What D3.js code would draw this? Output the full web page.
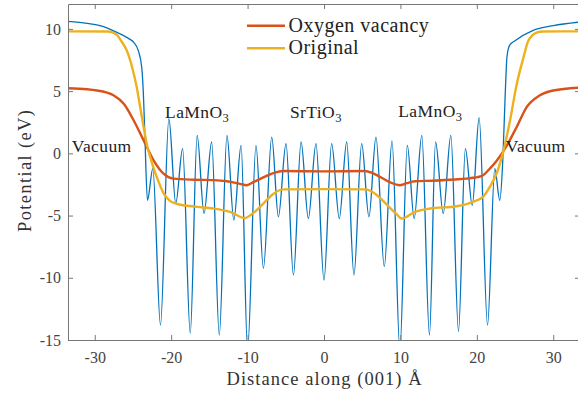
<!DOCTYPE html>
<html>
<head>
<meta charset="utf-8">
<script src="https://cdn.jsdelivr.net/npm/d3@7"></script>
<style>
  body { margin: 0; background: #fff; }
  svg { display: block; }
  svg text { font-family: "Liberation Serif", "DejaVu Serif", serif !important; }
</style>
</head>
<body>
<svg id="chart" width="578" height="394"></svg>
<script>
// ---------------- data ----------------
const xTicks = [-30, -20, -10, 0, 10, 20, 30];
const yTicks = [-15, -10, -5, 0, 5, 10];

// planar-averaged potential (blue)
const planarX = [-33.5, -31, -29.3, -27.1, -25.5, -24.9, -24.3, -23.85, -23.6, -23.45, -23.1, -22.4, -21.4, -20.3, -19.4, -18.5, -17.5, -16.6, -15.7, -14.7, -13.7, -12.7, -11.8, -10.85, -10.0, -8.9, -7.93, -6.84, -5.97, -4.97, -4.0, -3.0, -2.05, -1.05, 0, 1.0, 2.0, 2.97, 3.92, 4.93, 5.88, 6.8, 7.89, 8.9, 9.93, 10.9, 11.8, 12.8, 13.8, 14.6, 15.6, 16.6, 17.6, 18.5, 19.4, 20.3, 21.4, 22.35, 23.0, 23.4, 23.7, 23.95, 24.3, 25.0, 27.3, 30, 33.5];
const planarY = [10.6, 10.45, 10.26, 9.72, 9.2, 8.92, 8.25, 6.9, 4.25, 1.6, -3.77, -1.23, -13.8, 2.78, -4.03, 0.38, -14.45, 1.44, -4.83, 0.91, -14.6, 1.44, -5.37, 0.64, -15.8, 0.64, -9.24, 1.31, -5.1, 0.78, -9.78, 0.91, -5.24, 0.78, -10.18, 0.78, -5.24, 0.91, -9.78, 0.78, -5.1, 1.31, -9.1, 1.0, -15.8, 0.64, -5.24, 1.44, -14.6, 0.91, -4.83, 1.44, -14.3, 0.38, -4.17, 2.86, -13.8, -1.23, -3.77, -0.5, 4.5, 7.8, 8.7, 9.05, 9.86, 10.26, 10.55];

// macroscopic average: Oxygen vacancy (red)
const vacancyX = [-33.5, -31, -29.7, -28.5, -27.5, -26.2, -24.9, -23.6, -22.3, -21.0, -19.7, -17, -14.5, -12.7, -11, -10.1, -9.2, -5.3, 0, 5.3, 9.9, 10.8, 11.9, 14.3, 17, 18.65, 20.6, 21.7, 22.6, 23.9, 25.2, 26.5, 28.2, 30, 33.5];
const vacancyY = [5.23, 5.15, 5.05, 4.9, 4.65, 3.98, 2.64, 1.04, -0.56, -1.63, -2.03, -2.12, -2.15, -2.24, -2.45, -2.56, -2.3, -1.42, -1.45, -1.42, -2.56, -2.4, -2.24, -2.2, -2.1, -2.03, -1.84, -1.23, -0.6, 0.6, 2.1, 3.7, 4.65, 5.05, 5.28];

// macroscopic average: Original (yellow)
const originalX = [-33.5, -28.3, -27.6, -27.0, -26.5, -25.8, -25.1, -24.5, -24.05, -23.6, -23.2, -22.5, -21.7, -21.0, -20.2, -19.3, -16.6, -14.5, -12.3, -10.3, -9.6, -5.3, 0, 5.3, 9.6, 10.15, 11.9, 13.9, 17.35, 19.5, 20.8, 21.7, 22.6, 23.4, 24.3, 25.2, 26.1, 26.7, 27.3, 27.9, 28.6, 33.5];
const originalY = [9.8, 9.79, 9.7, 9.45, 9.0, 8.25, 6.9, 5.3, 3.7, 2.1, 0.78, -0.8, -2.2, -3.2, -3.8, -4.05, -4.3, -4.43, -4.7, -5.2, -4.95, -2.9, -2.88, -2.9, -4.95, -5.24, -4.7, -4.43, -4.25, -3.9, -3.5, -2.7, -1.6, 0, 2.5, 5.5, 7.7, 9.0, 9.5, 9.72, 9.79, 9.8];

const legendLabels = ["Oxygen vacancy", "Original"];
const regionNames = ["Vacuum", "LaMnO", "SrTiO", "LaMnO", "Vacuum"];
const regionSubs = ["", "3", "3", "3", ""];
const regionX = [-33.0, -20.8, -4.45, 9.72, 23.8];
const regionY = [0.1, 2.8, 2.8, 2.9, 0.1];
const xLabel = "Distance along (001) Å";
const yLabel = "Potential (eV)";

// ---------------- layout ----------------
const FONT = '"Liberation Serif", "DejaVu Serif", serif';
const mLeft = 68, mRight = 580, mTop = 4, mBottom = 340;
const colors = { planar: "#0072BD", vacancy: "#D95319", original: "#EDB120" };

const svg = d3.select("#chart");
const x = d3.scaleLinear().domain([-33.5, 33.5]).range([mLeft, mRight]);
const y = d3.scaleLinear().domain([-15, 12]).range([mBottom, mTop]);

svg.append("defs").append("clipPath").attr("id", "clip")
  .append("rect").attr("x", mLeft).attr("y", mTop)
  .attr("width", mRight - mLeft).attr("height", mBottom - mTop);

const plot = svg.append("g").attr("clip-path", "url(#clip)");
const line = d3.line().x(d => x(d[0])).y(d => y(d[1])).curve(d3.curveMonotoneX);

const planar = planarX.map((v, i) => [v, planarY[i]]);
const vacancy = vacancyX.map((v, i) => [v, vacancyY[i]]);
const original = originalX.map((v, i) => [v, originalY[i]]);

plot.append("path").datum(planar).attr("d", line)
  .attr("fill", "none").attr("stroke", colors.planar).attr("stroke-width", 1.3);
plot.append("path").datum(vacancy).attr("d", line)
  .attr("fill", "none").attr("stroke", colors.vacancy).attr("stroke-width", 2.4);
plot.append("path").datum(original).attr("d", line)
  .attr("fill", "none").attr("stroke", colors.original).attr("stroke-width", 2.4);

// ---------------- axes ----------------
const axisColor = "#777";
const fmt = d => String(d);
function styleAxis(g) {
  g.attr("font-family", FONT).attr("font-size", 16);
  g.select(".domain").attr("stroke", axisColor).attr("stroke-width", 1);
  g.selectAll(".tick line").attr("stroke", axisColor).attr("stroke-width", 1);
  g.selectAll(".tick text").attr("fill", "#444")
    .style("font-family", FONT).style("font-size", "16px");
}
svg.append("g").attr("transform", `translate(0,${mBottom})`)
  .call(d3.axisBottom(x).tickValues(xTicks).tickSizeInner(-5).tickSizeOuter(0).tickPadding(12).tickFormat(fmt))
  .call(styleAxis);
svg.append("g").attr("transform", `translate(0,${mTop})`)
  .call(d3.axisTop(x).tickValues(xTicks).tickSizeInner(-5).tickSizeOuter(0).tickFormat(""))
  .call(styleAxis);
svg.append("g").attr("transform", `translate(${mLeft},0)`)
  .call(d3.axisLeft(y).tickValues(yTicks).tickSizeInner(-5).tickSizeOuter(0).tickPadding(7).tickFormat(fmt))
  .call(styleAxis);
svg.append("g").attr("transform", `translate(${mRight},0)`)
  .call(d3.axisRight(y).tickValues(yTicks).tickSizeInner(-5).tickSizeOuter(0).tickFormat(""))
  .call(styleAxis);

// ---------------- axis labels ----------------
svg.append("text").text(xLabel)
  .attr("x", x(0)).attr("y", 385).attr("text-anchor", "middle")
  .attr("fill", "#333").style("font-family", FONT).style("font-size", "18.5px")
  .attr("textLength", 195).attr("lengthAdjust", "spacing");
svg.append("text").text(yLabel)
  .attr("transform", `translate(31,${(110 + 232) / 2}) rotate(-90)`)
  .attr("text-anchor", "middle")
  .attr("fill", "#333").style("font-family", FONT).style("font-size", "18.5px")
  .attr("textLength", 122).attr("lengthAdjust", "spacing");

// ---------------- region labels ----------------
regionNames.forEach((name, i) => {
  const t = svg.append("text")
    .attr("x", x(regionX[i])).attr("y", y(regionY[i]))
    .attr("fill", "#222").style("font-family", FONT).style("font-size", "17.5px")
    .style("letter-spacing", "0.4px");
  t.append("tspan").text(name);
  if (regionSubs[i]) {
    t.append("tspan").text(regionSubs[i]).attr("dy", 4).style("font-size", "12.5px");
  }
});

// ---------------- legend ----------------
const legendColors = [colors.vacancy, colors.original];
const legendY = [25.7, 48.3];
legendLabels.forEach((lab, i) => {
  svg.append("line").attr("x1", 247).attr("x2", 285)
    .attr("y1", legendY[i]).attr("y2", legendY[i])
    .attr("stroke", legendColors[i]).attr("stroke-width", 2.4);
  svg.append("text").text(lab)
    .attr("x", 288.5).attr("y", legendY[i] + 6)
    .attr("fill", "#222").style("font-family", FONT).style("font-size", "20px")
    .style("letter-spacing", "0.5px");
});
</script>
</body>
</html>
